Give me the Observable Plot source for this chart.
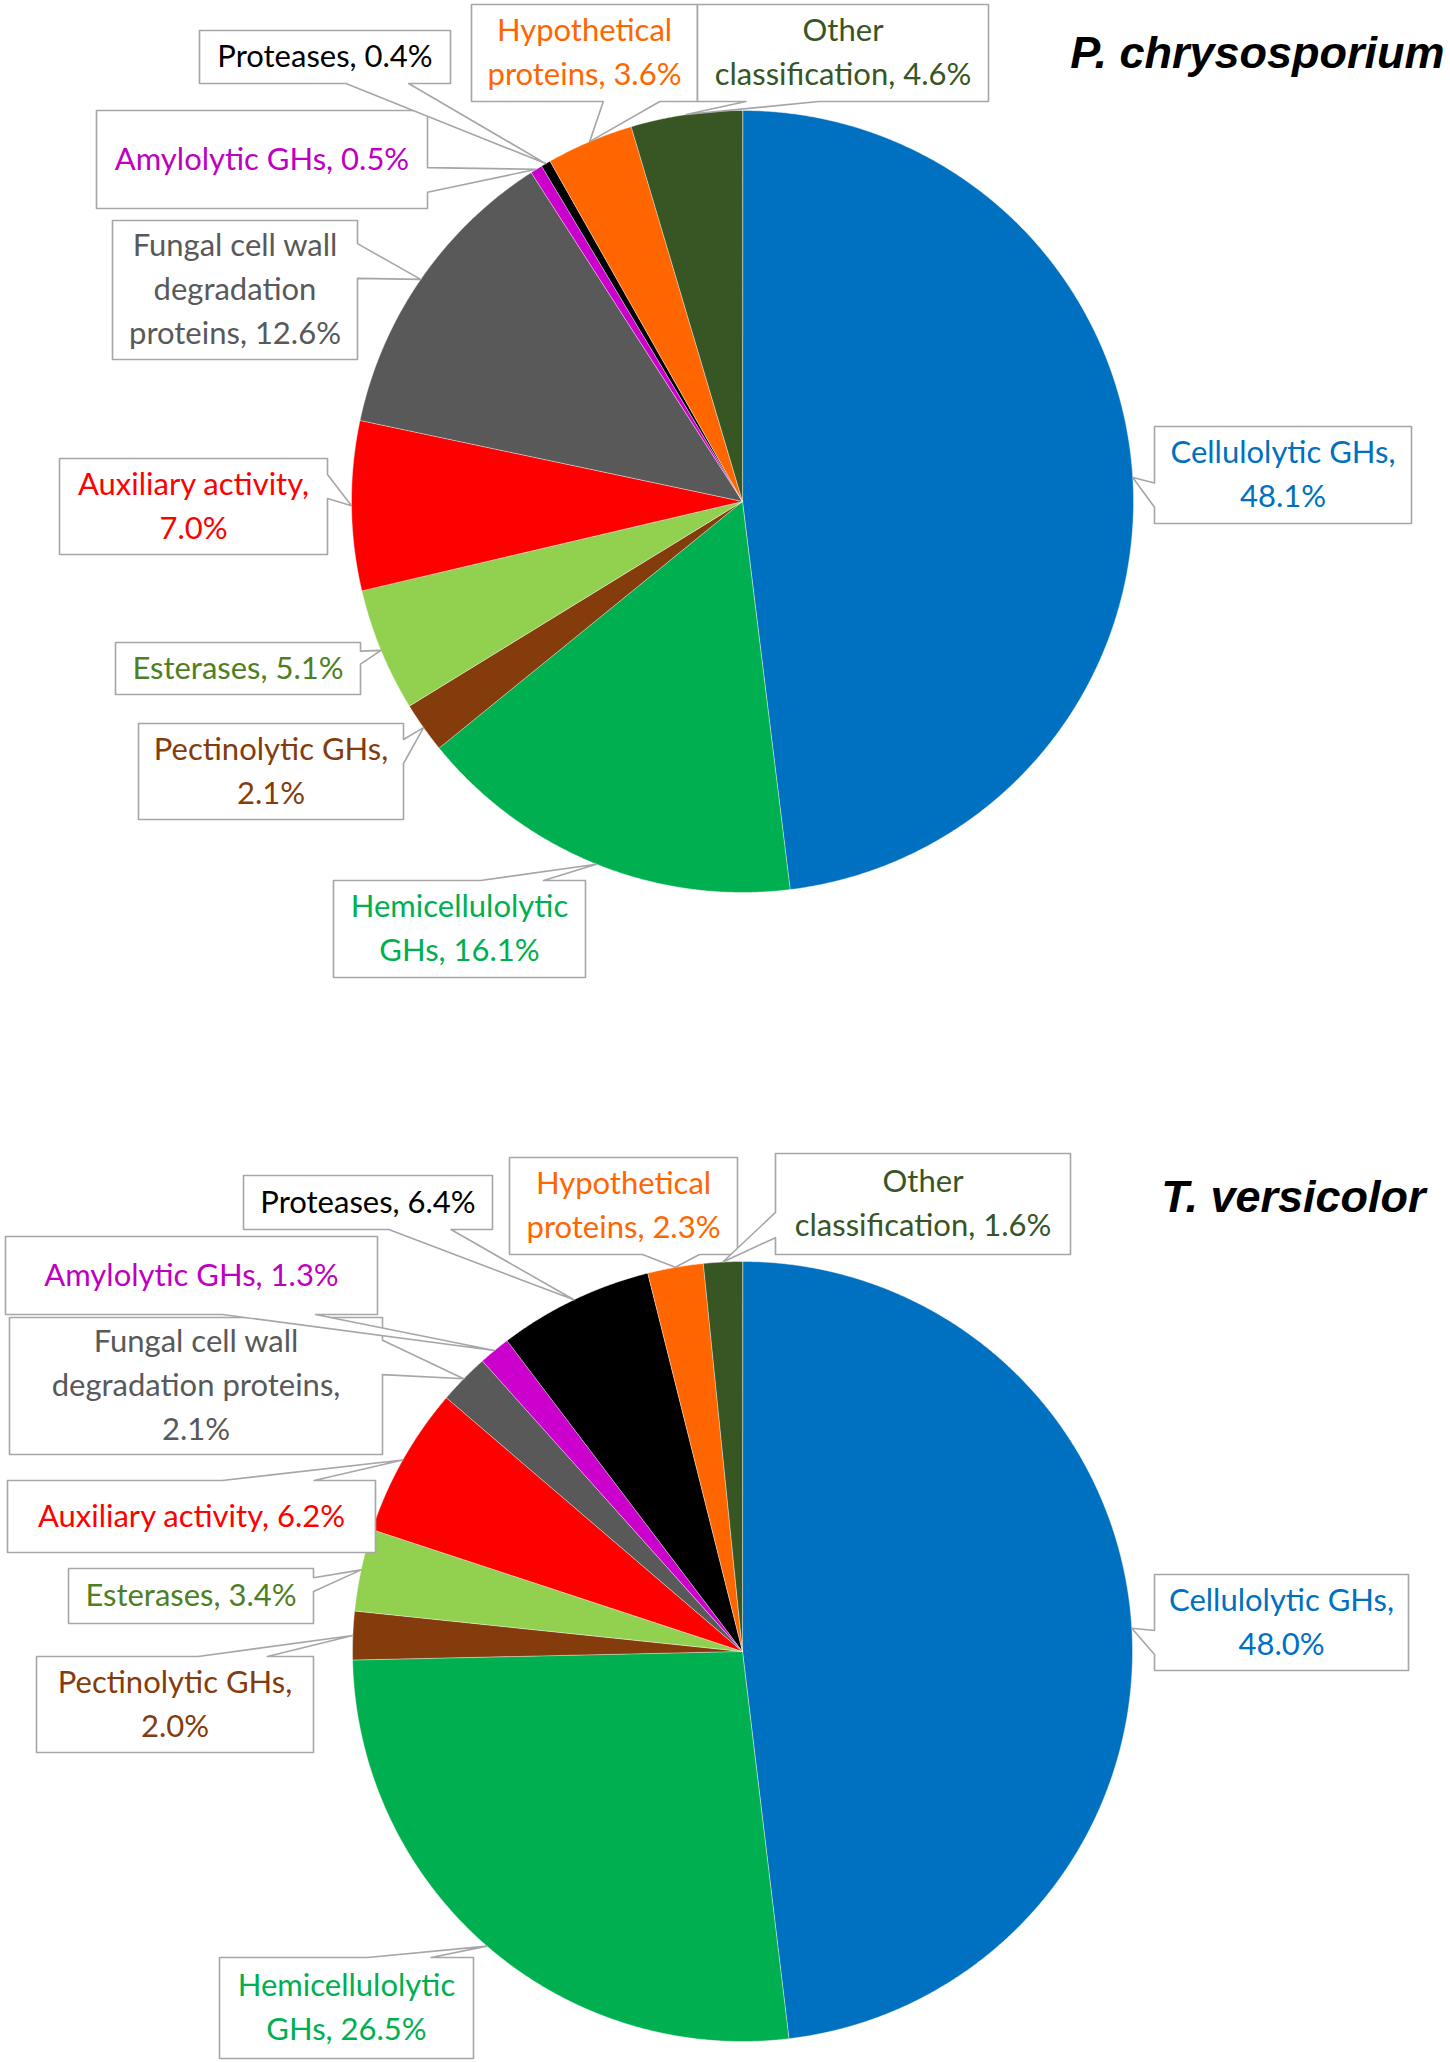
<!DOCTYPE html>
<html>
<head>
<meta charset="utf-8">
<script src="https://cdn.jsdelivr.net/npm/d3@7"></script>
<script src="https://cdn.jsdelivr.net/npm/@observablehq/plot@0.6"></script>
<style>
  html, body { margin: 0; padding: 0; background: #ffffff; }
  #chart svg { display: block; }
</style>
</head>
<body>
<div id="chart"></div>
<script>
// ---------- DATA ----------
const categories = [
  "Cellulolytic GHs",
  "Hemicellulolytic GHs",
  "Pectinolytic GHs",
  "Esterases",
  "Auxiliary activity",
  "Fungal cell wall degradation proteins",
  "Amylolytic GHs",
  "Proteases",
  "Hypothetical proteins",
  "Other classification"
];
const pChrysosporiumShare = [48.1, 16.1, 2.1, 5.1, 7.0, 12.6, 0.5, 0.4, 3.6, 4.6];
const tVersicolorShare    = [48.0, 26.5, 2.0, 3.4, 6.2, 2.1, 1.3, 6.4, 2.3, 1.6];
const speciesNames = ["P. chrysosporium", "T. versicolor"];

// ---------- STYLE ----------
const sliceColors = ["#0070C0", "#00B050", "#843C0C", "#92D050", "#FF0000",
                     "#595959", "#CC00CC", "#000000", "#FF6600", "#375623"];
const labelColors = ["#0070C0", "#00B050", "#843C0C", "#4E7F24", "#FF0000",
                     "#595959", "#C000C0", "#000000", "#FF6600", "#375623"];

// ---------- LAYOUT ----------
const W = 1450, H = 2062;
const pieLayout = [
  {cx: 742, cy: 501, r: 391, titleX: 1444, titleY: 53},
  {cx: 742, cy: 1651, r: 390, titleX: 1425, titleY: 1197}
];
// label boxes [left, top, right, bottom], in category order
const labelBoxes = [
  [[1154, 426, 1411, 523], [333, 880, 585, 977], [138, 723, 403, 819], [115, 642, 360, 694],
   [59, 458, 327, 554], [112, 220, 357, 359], [96, 110, 427, 208], [199, 30, 450, 83],
   [471, 4, 697, 101], [697, 4, 988, 101]],
  [[1154, 1574, 1408, 1670], [219, 1957, 473, 2058], [36, 1656, 313, 1752], [68, 1568, 313, 1623],
   [7, 1480, 375, 1552], [9, 1317, 382, 1454], [5, 1236, 377, 1314], [243, 1175, 492, 1229],
   [509, 1157, 737, 1254], [775, 1153, 1070, 1254]]
];
// word counts after which a label wraps
const labelBreaks = [
  [[2], [1], [2], [], [2], [3, 4], [], [], [1], [1]],
  [[2], [1], [2], [], [], [3, 5], [], [], [1], [1]]
];

// ---------- BUILD ----------
const series = [pChrysosporiumShare, tVersicolorShare];
const slicePts = [], calloutPts = [], labels = [], titles = [];

function wrapLabel(name, value, breaks) {
  const words = (name + ", " + value.toFixed(1) + "%").split(" ");
  const lines = []; let cur = [];
  words.forEach((w, i) => {
    cur.push(w);
    if (breaks.includes(i + 1)) { lines.push(cur.join(" ")); cur = []; }
  });
  if (cur.length) lines.push(cur.join(" "));
  return lines.join("\n");
}

function calloutPath(box, tip, key) {
  const [l, t, r, b] = box;
  const w = r - l, h = b - t, hc = (l + r) / 2, vc = (t + b) / 2;
  const dx = tip[0] - hc, dy = tip[1] - vc;
  const inside = tip[0] >= l && tip[0] <= r && tip[1] >= t && tip[1] <= b;
  const x1 = l + w * (dx > 0 ? 7 : 2) / 12, x2 = l + w * (dx > 0 ? 10 : 5) / 12;
  const y1 = t + h * (dy > 0 ? 7 : 2) / 12, y2 = t + h * (dy > 0 ? 10 : 5) / 12;
  const dz = Math.abs(dy) - Math.abs(dx * h / w);
  let side = null;
  if (!inside) side = dz > 0 ? (dy < 0 ? "top" : "bottom") : (dx < 0 ? "left" : "right");
  const p = [[l, t]];
  if (side === "top") p.push([x1, t], tip, [x2, t]);
  p.push([r, t]);
  if (side === "right") p.push([r, y1], tip, [r, y2]);
  p.push([r, b]);
  if (side === "bottom") p.push([x2, b], tip, [x1, b]);
  p.push([l, b]);
  if (side === "left") p.push([l, y2], tip, [l, y1]);
  return p.map(([x, y]) => ({key, x, y}));
}

series.forEach((values, pi) => {
  const L = pieLayout[pi];
  const arcs = d3.pie().sort(null).value(d => d)(values);
  arcs.forEach((a, i) => {
    const key = pi + "-" + i;
    const span = a.endAngle - a.startAngle;
    const n = Math.max(2, Math.ceil(span / (Math.PI / 720)));
    slicePts.push({key, x: L.cx, y: L.cy, c: sliceColors[i]});
    for (let k = 0; k <= n; k++) {
      const th = a.startAngle + span * k / n;
      slicePts.push({key, x: L.cx + L.r * Math.sin(th), y: L.cy - L.r * Math.cos(th), c: sliceColors[i]});
    }
    const mid = (a.startAngle + a.endAngle) / 2;
    const tip = [L.cx + L.r * Math.sin(mid), L.cy - L.r * Math.cos(mid)];
    const box = labelBoxes[pi][i];
    calloutPts.push(...calloutPath(box, tip, key));
    labels.push({
      x: (box[0] + box[2]) / 2,
      y: (box[1] + box[3]) / 2 - 4,
      text: wrapLabel(categories[i], values[i], labelBreaks[pi][i]),
      c: labelColors[i]
    });
  });
  titles.push({x: L.titleX, y: L.titleY, text: speciesNames[pi]});
});

const chart = Plot.plot({
  width: W,
  height: H,
  margin: 0,
  x: {domain: [0, W], range: [0, W], axis: null},
  y: {domain: [0, H], range: [0, H], axis: null},
  style: {background: "#ffffff"},
  marks: [
    Plot.line(slicePts, {x: "x", y: "y", z: "key", fill: "c", stroke: "#ffffff",
      strokeWidth: 0.7, strokeOpacity: 0.6, curve: "linear-closed"}),
    Plot.line(calloutPts, {x: "x", y: "y", z: "key", fill: "#ffffff", stroke: "#A6A6A6",
      strokeWidth: 1.6, curve: "linear-closed"}),
    Plot.text(labels, {x: "x", y: "y", text: "text", fill: "c", fontSize: 31,
      fontFamily: "Lato, 'Open Sans', sans-serif", lineHeight: 1.42,
      textAnchor: "middle", lineAnchor: "middle"}),
    Plot.text(titles, {x: "x", y: "y", text: "text", fill: "#000000", fontSize: 45,
      fontWeight: "bold", fontStyle: "italic",
      fontFamily: "'Liberation Sans', Arial, sans-serif",
      textAnchor: "end", lineAnchor: "middle"})
  ]
});
document.getElementById("chart").appendChild(chart);
</script>
</body>
</html>
